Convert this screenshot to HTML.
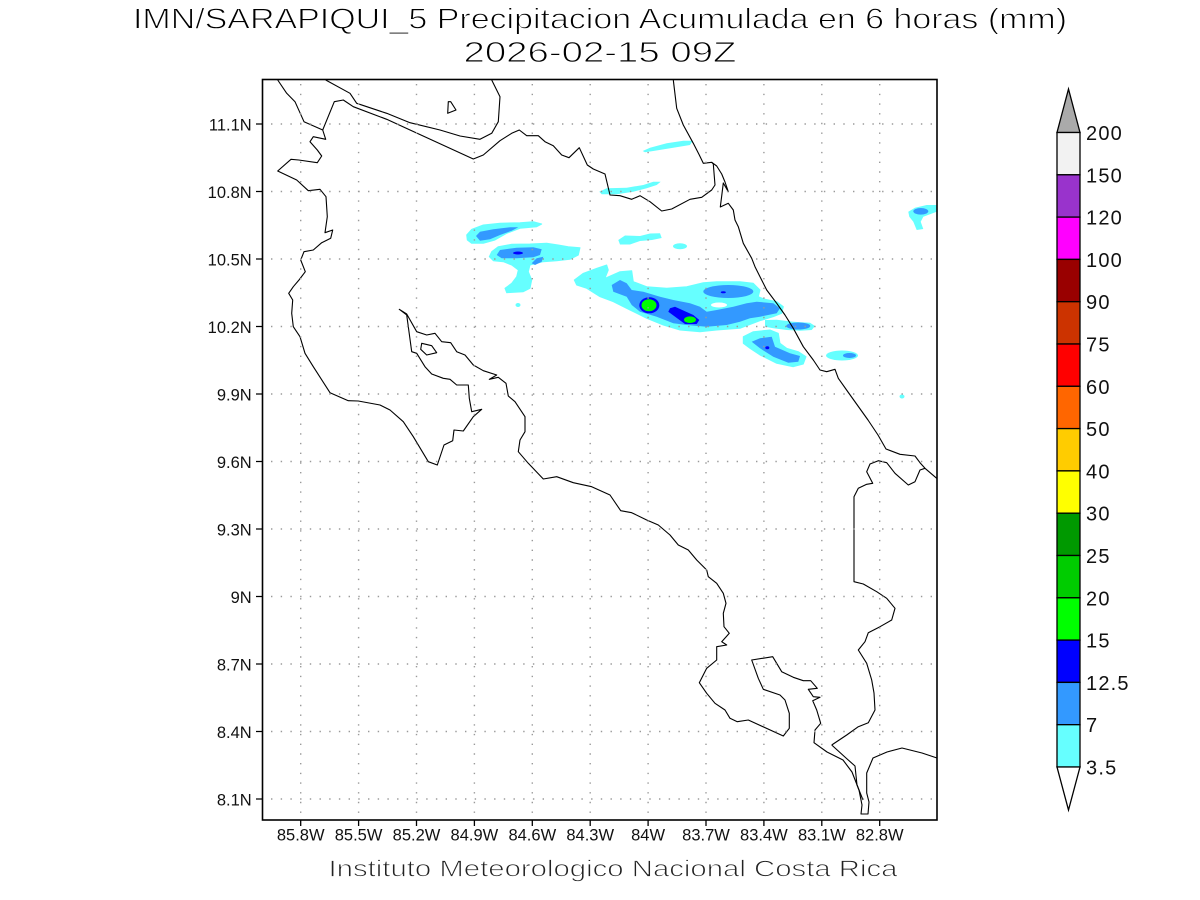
<!DOCTYPE html>
<html><head><meta charset="utf-8"><style>
html,body{margin:0;padding:0;background:#fff;}
svg{display:block;}
text{font-family:"Liberation Sans",sans-serif;}
</style></head><body>
<svg width="1200" height="900" viewBox="0 0 1200 900" xmlns="http://www.w3.org/2000/svg">
<rect width="1200" height="900" fill="#fff"/>
<!-- Titles -->
<g stroke="#fff" stroke-width="0.9">
<text x="600" y="28.5" font-size="29" text-anchor="middle" textLength="934" lengthAdjust="spacingAndGlyphs" fill="#000">IMN/SARAPIQUI_5 Precipitacion Acumulada en 6 horas (mm)</text>
<text x="600" y="62" font-size="29" text-anchor="middle" textLength="273" lengthAdjust="spacingAndGlyphs" fill="#000">2026-02-15 09Z</text>
</g>
<text x="328.5" y="876.7" font-size="23" textLength="569" lengthAdjust="spacingAndGlyphs" fill="#222" stroke="#fff" stroke-width="0.8">Instituto Meteorologico Nacional Costa Rica</text>

<!-- Precipitation shading -->
<g stroke-linejoin="round">
<!-- Blob A -->
<polygon fill="#66ffff" stroke="#66ffff" stroke-width="1" points="466.7,235 471.7,229.3 483.3,225 500,223.3 520,222.7 533.3,221.7 541.7,224 536.7,226.7 520,228.3 506.7,233.3 495,240 483.3,243.3 471.7,243.3 467.3,240"/>
<polygon fill="#3399ff" points="476,236 480,231.7 493.3,229.3 510,227.3 518.3,227.3 511.7,230.7 500,235 490,239.3 480,240.7"/>
<!-- Blob B -->
<polygon fill="#66ffff" stroke="#66ffff" stroke-width="1" points="489.3,256.7 491.7,251.7 498.3,246.7 511.7,244.3 530,244 546.7,243.3 558.3,245 568.3,246.7 580,247.7 578.3,255 570,259.3 556.7,260.7 543.3,261.7 530,265 528.3,271.7 531.7,280 530,288.3 523.3,291.7 506.7,292.7 505,288.3 511.7,283.3 516.7,276.7 518.3,270 511.7,265 503.3,261.7 493.3,260.7"/>
<polygon fill="#3399ff" points="496.7,255 500,250 516.7,247.7 533.3,247.3 541.7,249.3 540,255 533.3,257.3 516.7,258.3 501.7,258.3"/>
<polygon fill="#3399ff" points="531.7,263.3 536.7,258.3 543.3,256.7 541.7,261.7 535,265"/>
<ellipse cx="518" cy="253" rx="5" ry="1.5" fill="#0000ff"/>
<ellipse cx="518" cy="305" rx="2.5" ry="2" fill="#66ffff"/>
<!-- small cyan blobs -->
<polygon fill="#66ffff" points="618.3,240 625,235.5 640,236 650,233.5 660,233.3 661.7,238 652,240 640,241 630,244.5 620,244.5"/>
<ellipse cx="680" cy="246.3" rx="7" ry="3" fill="#66ffff"/>
<polygon fill="#66ffff" points="642.7,151 650,147.7 666.7,143.3 683.3,140.7 692.7,140.7 690,145 673.3,147.7 653.3,151 645,152.3"/>
<polygon fill="#66ffff" points="599.3,191.7 606.7,188.3 626.7,187.7 643.3,185 653.3,181.7 660.7,181.7 656.7,185 646.7,188.3 633.3,191.7 616.7,194.3 601.7,194.3"/>
<!-- Main blob -->
<polygon fill="#66ffff" stroke="#66ffff" stroke-width="1" points="574.3,280 583.3,273.3 596.7,268.3 606.7,265 608.3,270 605,278.3 620,271.7 631.7,270.7 633.3,281.7 646.7,286.7 666.7,288.3 686.7,286.7 703.3,282.7 716.7,281.7 740,281.7 753.3,283.3 760,290 758.3,296.7 765,299.3 776.7,301.7 783.3,306.7 781.7,313.3 773.3,316.7 760,320.7 740,328.3 716.7,330 700,331.7 680,330 663.3,325 646.7,318.3 630,310 613.3,301.7 600,296.7 586.7,288.3 576.7,285"/>
<polygon fill="#66ffff" points="765,320 776.7,319.7 793.3,321.7 810,322.7 815,326 811.7,330 800,330.7 786.7,330 773.3,328.3 765,326.7"/>
<polygon fill="#3399ff" points="611.7,285 620,280 626.7,283.3 631.7,290 643.3,291.7 660,296.7 673.3,300 690,303.3 700,306.7 706.7,311.7 716.7,310 733.3,306.7 746.7,303.3 756.7,301.7 773.3,303.3 780,308.3 776.7,313.3 760,316.7 750,318.3 740,321.7 726.7,325 706.7,326.7 686.7,325 673.3,323.3 656.7,316.7 640,311.7 631.7,305 626.7,296.7 613.3,291.7"/>
<ellipse cx="728.3" cy="291.5" rx="25" ry="6.5" fill="#3399ff"/>
<ellipse cx="723.3" cy="292.3" rx="2.5" ry="1" fill="#0000ff"/>
<ellipse cx="719" cy="305" rx="8" ry="2.5" fill="#fff"/>
<ellipse cx="798.3" cy="326" rx="12" ry="3.5" fill="#3399ff"/>
<ellipse cx="649.3" cy="305.3" rx="10" ry="8" fill="#0000ff"/>
<ellipse cx="649" cy="305.3" rx="7.5" ry="6" fill="#00ff00"/>
<polygon fill="#0000ff" points="670,308.3 675,306.7 693.3,315 699.3,320 696.7,324 685,324 668.3,311.7"/>
<ellipse cx="690" cy="319.7" rx="6" ry="3.3" fill="#00ff00"/>
<!-- Blob E -->
<polygon fill="#66ffff" stroke="#66ffff" stroke-width="1" points="743.3,336.7 753.3,331.7 770,330 778.3,333.3 780,343.3 786.7,348.3 798.3,351.7 806,356.7 803.3,364 793.3,366.7 776.7,363.3 760,355 750,348.3 743.3,343.3"/>
<polygon fill="#3399ff" points="751.7,341.7 760,338.3 771.7,336.7 775,346.7 790,353.3 800,356 798.3,361.7 788.3,362.7 773.3,356.7 760,348.3"/>
<ellipse cx="767.3" cy="347.7" rx="2" ry="1.5" fill="#0000ff"/>
<!-- Blob F -->
<ellipse cx="842" cy="355.5" rx="16" ry="5" fill="#66ffff"/>
<ellipse cx="849.5" cy="355.5" rx="6.5" ry="2.5" fill="#3399ff"/>
<ellipse cx="902" cy="396.5" rx="2.5" ry="2" fill="#66ffff"/>
<!-- Blob H -->
<polygon fill="#66ffff" points="908.3,211.7 915,207.7 926.7,205 936.7,205 936.7,211.7 923.3,216.7 920.7,221.7 923.3,229 916.7,230 913.3,221.7 909.3,216.7"/>
<ellipse cx="920.8" cy="211.3" rx="7.5" ry="3.3" fill="#3399ff"/>
</g>

<!-- Coastlines -->
<g fill="none" stroke="#000" stroke-width="1.1" stroke-linejoin="round">
<path d="M277.7,80 L286.7,93.3 L295,101.7 L304,121.7 L322.7,130 L325.7,139.3 L313.3,136.7 L310,141.7 L317.3,150 L321.7,156 L317.3,162.7 L298.7,160 L291,159.3 L277.7,171 L296.7,180 L308.3,190.7 L320,189.3 L326,196.7 L327.3,216.7 L325,232.7 L332.7,230 L330.7,238.3 L321.7,242.7 L313.3,250 L304,251.7 L300.7,260 L305.3,271.7 L299,280 L293.3,286.7 L288.7,293.3 L292.7,300 L291.7,313.3 L293.3,326.7 L300,336.7 L305,353.3 L313.3,366.7 L330,392.7 L348.3,400.7 L358.3,401 L380,405 L390,410 L403.3,421.7 L413.3,436.7 L428.3,461.7 L437.3,465 L444,445 L452.7,440.7 L454,430 L463.3,431 L473.3,416.7 L481.7,409.3 L471.7,411.7 L469.3,398.3 L468.3,385 L456.7,385 L450,379.3 L443.3,378.3 L431.7,374 L425,366.7 L416.7,353.3 L411.7,351.7 L408.3,326.7 L406.7,315 L399.3,309.3 L406.7,314 L416.7,331.7 L426.7,335 L435,333.3 L441.7,341.7 L450.7,342.7 L456.7,351.7 L465,355 L473.3,365 L483.3,370.7 L496.7,375 L489.3,379.3 L498.3,377.3 L506,383.3 L508.3,396 L515,401.7 L525,416.7 L525,431.7 L520,440 L518.3,451.7 L528.3,463.3 L543.3,479 L556.7,476.7 L573.3,482.7 L591.7,486.7 L610,495 L620.7,510.7 L631.7,512.7 L646.7,520 L658.3,525 L670,535 L678.3,545 L688.3,550 L696.7,560 L706.7,570 L708.3,576.7 L716.7,583.3 L723.3,593.3 L726,603.3 L723.3,613.3 L724,626.7 L729.3,633.3 L721.7,641.7 L726.7,645 L716.7,646.7 L716.7,660 L706.7,668.3 L699.3,682.7 L706.7,693.3 L715,703.3 L725,710 L730,718.3 L737.3,721.7 L748.3,720 L783.3,736 L789.3,728.3 L789.3,713.3 L785,700 L780,695 L763.3,689.3 L758.3,678.3 L751.7,660 L772.7,656.7 L781.7,671.7 L793.3,677.3 L803.3,680.7 L810.7,680.7 L817.3,688.3 L808.3,689.3 L813.3,696.7 L820,697.3 L812.7,700.7 L816.7,710 L820.7,723.3 L815,730 L814,742.7 L827,752 L843,760 L852,772 L859,790 L862,805 L861,814 L868,814 L869,802 L866.7,793 L866.7,773 L873,758 L887,752 L902,748 L922,753 L937,758"/>
<path d="M831.7,745 L846.7,735 L858.3,726.7 L868.3,722.7 L875,710 L874,693 L871.7,680 L866.7,663.3 L858.3,650 L865,641.7 L868.3,632.7 L880,626.7 L891.7,620 L895,608.3 L886.7,598.3 L876.7,591.7 L863.3,584 L854,581.7 L854,496.7 L858.3,488.3 L866.7,484.3 L872.7,483.3 L866.7,471.7 L870,464 L878.3,460.7 L886.7,462.7 L895,473.3 L908.3,485 L915,481.7 L920,470 L925,468.3"/>
<path d="M831.7,745 L846,758 L855,766 L857,785 L863,800"/>
<path d="M673.3,80 L676.7,108.3 L683.3,125 L693.3,143.3 L699.3,155 L703.3,163.3 L711.7,162.3 L716.7,166 L721.7,174 L725,182 L728.3,191.7 L723.3,183 L721.7,196 L720.3,207 L728.3,203.3 L733.3,210 L735,220 L738.3,226.7 L743.3,243.3 L751.7,258.3 L755,266.7 L760,276.7 L766.7,290 L776.7,303.3 L785,315 L793.3,328.3 L803.3,346.7 L813.3,360 L820,370 L826.7,371.7 L835,369.3 L838.3,378.3 L848,392 L858,406 L868,420 L878,435 L886,449 L900,454.3 L915,456 L920,462.7 L925,468.3 L936.7,478.3"/>
<path d="M322.7,130 L334.3,101.7 L343.3,100 L353.3,106.7 L386.7,119.3 L473.3,159 L483.3,155 L500,140.7 L511.7,133.3 L519.3,130 L526.7,135.7 L538.3,135.7 L545,141.7 L553.3,145.7 L561.7,155 L569,157.7 L579.3,147.7 L587.3,165 L593.3,169 L605,174 L610,195 L620,195.7 L631.7,199.3 L640,195.7 L650,201.7 L661.7,211 L671.7,209 L690,199.3 L701.7,197.3 L711.7,190 L715,185 L713.3,164 L711.7,162.3"/>
<path d="M325.7,80 L350,93.3 L356.7,103.3 L386.7,113.3 L410,122.7 L440,130 L460,136 L480,139.3 L491.7,133.3 L498.3,121.7 L500,96.7 L491.7,80"/>
<path d="M448.3,101.7 L450.7,101.7 L456,110 L447.7,113.3 Z"/>
<path d="M421.7,343.3 L431.7,345.7 L436.7,352.7 L426.7,355 L420.7,349.3 Z"/>
</g>

<!-- Grid -->
<g stroke="#9a9a9a" stroke-width="1.4" stroke-dasharray="1.4 8.3" fill="none">
<path d="M271,124 H937 M271,191.5 H937 M271,259 H937 M271,326.5 H937 M271,394 H937 M271,461.5 H937 M271,529 H937 M271,596.5 H937 M271,664 H937 M271,731.5 H937 M271,799 H937"/>
<path d="M300.7,84 V820 M358.6,84 V820 M416.5,84 V820 M474.4,84 V820 M532.3,84 V820 M590.2,84 V820 M648.1,84 V820 M706,84 V820 M763.9,84 V820 M821.8,84 V820 M879.7,84 V820"/>
</g>

<!-- Frame and ticks -->
<rect x="262.5" y="79.5" width="674.5" height="740.5" fill="none" stroke="#000" stroke-width="1.6"/>
<g stroke="#000" stroke-width="1.3">
<path d="M256,124 H262 M256,191.5 H262 M256,259 H262 M256,326.5 H262 M256,394 H262 M256,461.5 H262 M256,529 H262 M256,596.5 H262 M256,664 H262 M256,731.5 H262 M256,799 H262"/>
<path d="M300.7,820 V826 M358.6,820 V826 M416.5,820 V826 M474.4,820 V826 M532.3,820 V826 M590.2,820 V826 M648.1,820 V826 M706,820 V826 M763.9,820 V826 M821.8,820 V826 M879.7,820 V826"/>
</g>

<!-- Y labels -->
<g font-size="16.5" text-anchor="end" fill="#111">
<text x="251.7" y="130.7">11.1N</text>
<text x="251.7" y="198.2">10.8N</text>
<text x="251.7" y="265.7">10.5N</text>
<text x="251.7" y="333.2">10.2N</text>
<text x="251.7" y="400.7">9.9N</text>
<text x="251.7" y="468.2">9.6N</text>
<text x="251.7" y="535.7">9.3N</text>
<text x="251.7" y="603.2">9N</text>
<text x="251.7" y="670.7">8.7N</text>
<text x="251.7" y="738.2">8.4N</text>
<text x="251.7" y="805.7">8.1N</text>
</g>
<!-- X labels -->
<g font-size="16.5" text-anchor="middle" fill="#111">
<text x="300.7" y="840.7">85.8W</text>
<text x="358.6" y="840.7">85.5W</text>
<text x="416.5" y="840.7">85.2W</text>
<text x="474.4" y="840.7">84.9W</text>
<text x="532.3" y="840.7">84.6W</text>
<text x="590.2" y="840.7">84.3W</text>
<text x="648.1" y="840.7">84W</text>
<text x="706" y="840.7">83.7W</text>
<text x="763.9" y="840.7">83.4W</text>
<text x="821.8" y="840.7">83.1W</text>
<text x="879.7" y="840.7">82.8W</text>
</g>

<!-- Colorbar -->
<g stroke="#000" stroke-width="1.3">
<polygon points="1068.5,89 1080,132.5 1057,132.5" fill="#aaaaaa"/>
<rect x="1057" y="132.5" width="23" height="42.3" fill="#f2f2f2"/>
<rect x="1057" y="174.8" width="23" height="42.3" fill="#9933cc"/>
<rect x="1057" y="217.1" width="23" height="42.3" fill="#ff00ff"/>
<rect x="1057" y="259.4" width="23" height="42.3" fill="#990000"/>
<rect x="1057" y="301.7" width="23" height="42.3" fill="#cc3300"/>
<rect x="1057" y="344" width="23" height="42.3" fill="#ff0000"/>
<rect x="1057" y="386.3" width="23" height="42.3" fill="#ff6600"/>
<rect x="1057" y="428.6" width="23" height="42.3" fill="#ffcc00"/>
<rect x="1057" y="470.9" width="23" height="42.3" fill="#ffff00"/>
<rect x="1057" y="513.2" width="23" height="42.3" fill="#009900"/>
<rect x="1057" y="555.5" width="23" height="42.3" fill="#00cc00"/>
<rect x="1057" y="597.8" width="23" height="42.3" fill="#00ff00"/>
<rect x="1057" y="640.1" width="23" height="42.3" fill="#0000ff"/>
<rect x="1057" y="682.4" width="23" height="42.3" fill="#3399ff"/>
<rect x="1057" y="724.7" width="23" height="42.3" fill="#66ffff"/>
<polygon points="1057,767 1080,767 1068.5,810" fill="#ffffff"/>
</g>
<g font-size="20" fill="#111" letter-spacing="1.2">
<text x="1086" y="140">200</text>
<text x="1086" y="182.3">150</text>
<text x="1086" y="224.6">120</text>
<text x="1086" y="266.9">100</text>
<text x="1086" y="309.2">90</text>
<text x="1086" y="351.5">75</text>
<text x="1086" y="393.8">60</text>
<text x="1086" y="436.1">50</text>
<text x="1086" y="478.4">40</text>
<text x="1086" y="520.7">30</text>
<text x="1086" y="563">25</text>
<text x="1086" y="605.3">20</text>
<text x="1086" y="647.6">15</text>
<text x="1086" y="689.9">12.5</text>
<text x="1086" y="732.2">7</text>
<text x="1086" y="774.5">3.5</text>
</g>
</svg>
</body></html>
